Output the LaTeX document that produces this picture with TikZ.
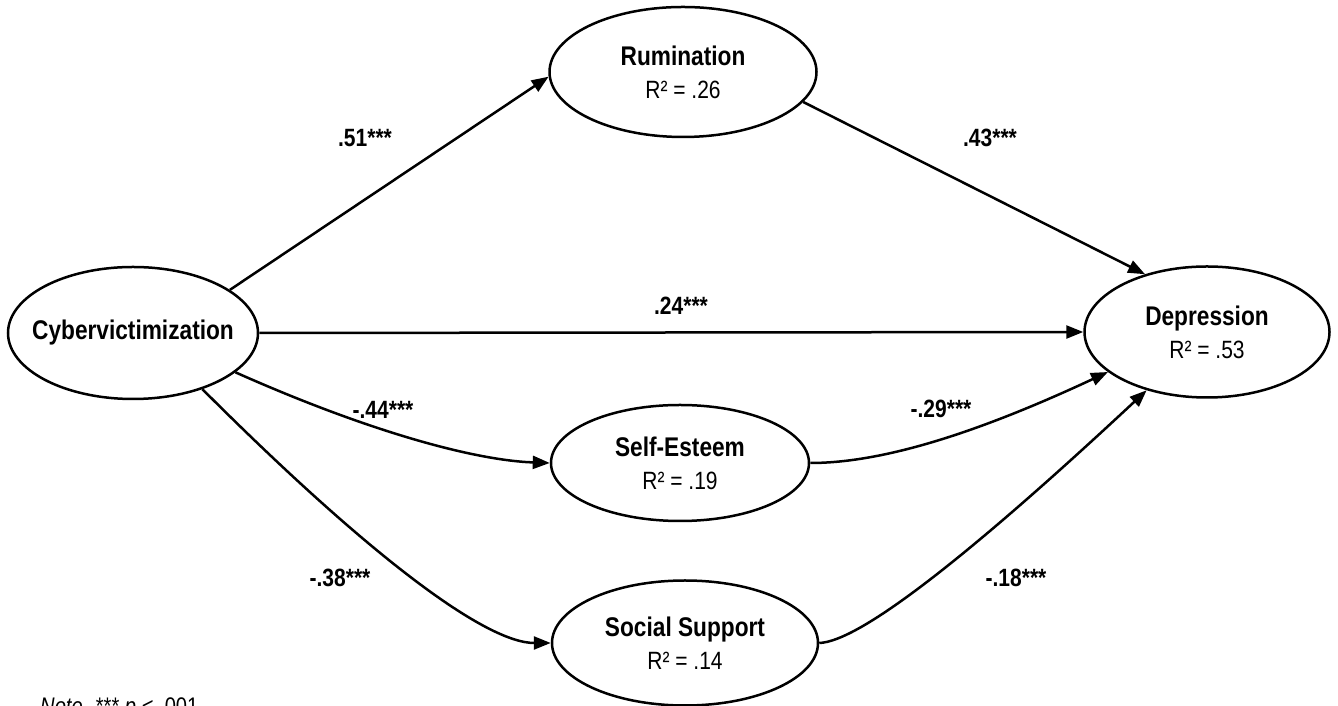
\documentclass[tikz,border=0pt]{standalone}
\usepackage{fontspec}
\setmainfont[FakeStretch=0.84]{Liberation Sans}
\usetikzlibrary{shapes.geometric,arrows.meta}
\begin{document}
\begin{tikzpicture}[x=1pt,y=1pt,
  var/.style={ellipse, draw, line width=2.5pt, inner xsep=-45pt, inner ysep=0pt, align=center,
    font=\fontsize{25}{33}\selectfont},
  vname/.style={font=\fontsize{27}{33}\selectfont\bfseries},
  pathline/.style={line width=2.5pt, -{Triangle[length=17pt,width=13pt]}},
  coef/.style={font=\fontsize{25}{28}\selectfont\bfseries, inner sep=0pt}
]
\fill[white] (0,0) rectangle (1338,706);
\useasboundingbox (0,0) rectangle (1338,706);

\node[var, minimum width=250pt, minimum height=132pt] (cyb) at (133,373) {\textbf{\fontsize{27}{33}\selectfont Cybervictimization}};
\node[var, minimum width=267pt, minimum height=130pt] (rum) at (683,634) {\textbf{\fontsize{27}{33}\selectfont Rumination}\\R² = .26};
\node[var, minimum width=245pt, minimum height=131pt] (dep) at (1207,374) {\textbf{\fontsize{27}{33}\selectfont Depression}\\R² = .53};
\node[var, minimum width=258pt, minimum height=116pt] (se) at (680,243) {\textbf{\fontsize{27}{33}\selectfont Self-Esteem}\\R² = .19};
\node[var, minimum width=266pt, minimum height=125pt] (ss) at (685,63) {\textbf{\fontsize{27}{33}\selectfont Social Support}\\R² = .14};

\draw[pathline] (cyb.24) -- (rum.182);
\draw[pathline] (rum.-14) -- (dep.137);
\draw[pathline] (cyb.east) -- (dep.west);
\draw[pathline] (cyb.-21) to[out=-24, in=178, out distance=146pt, in distance=75pt] (se.west);
\draw[pathline] (cyb.-39) to[out=-45, in=180, out distance=237pt, in distance=65pt] (ss.west);
\draw[pathline] (se.east) to[out=0, in=-155, out distance=75pt, in distance=139pt] (dep.-158);
\draw[pathline] (ss.east) to[out=2, in=-137, out distance=40pt, in distance=245pt] (dep.-136);

\node[coef] (c1) at (365,568) {.51***};
\node[coef] (c2) at (990,568) {.43***};
\node[coef] (c3) at (681,400) {.24***};
\node[coef] (c4) at (383,296) {-.44***};
\node[coef] (c5) at (941,297) {-.29***};
\node[coef] (c6) at (340,128) {-.38***};
\node[coef] (c7) at (1016,128) {-.18***};

\node[anchor=base west, inner sep=0pt, font=\fontsize{24}{28}\selectfont] (note) at (40,-9) {\textit{Note.} *** \textit{p} < .001};
\end{tikzpicture}
\end{document}
